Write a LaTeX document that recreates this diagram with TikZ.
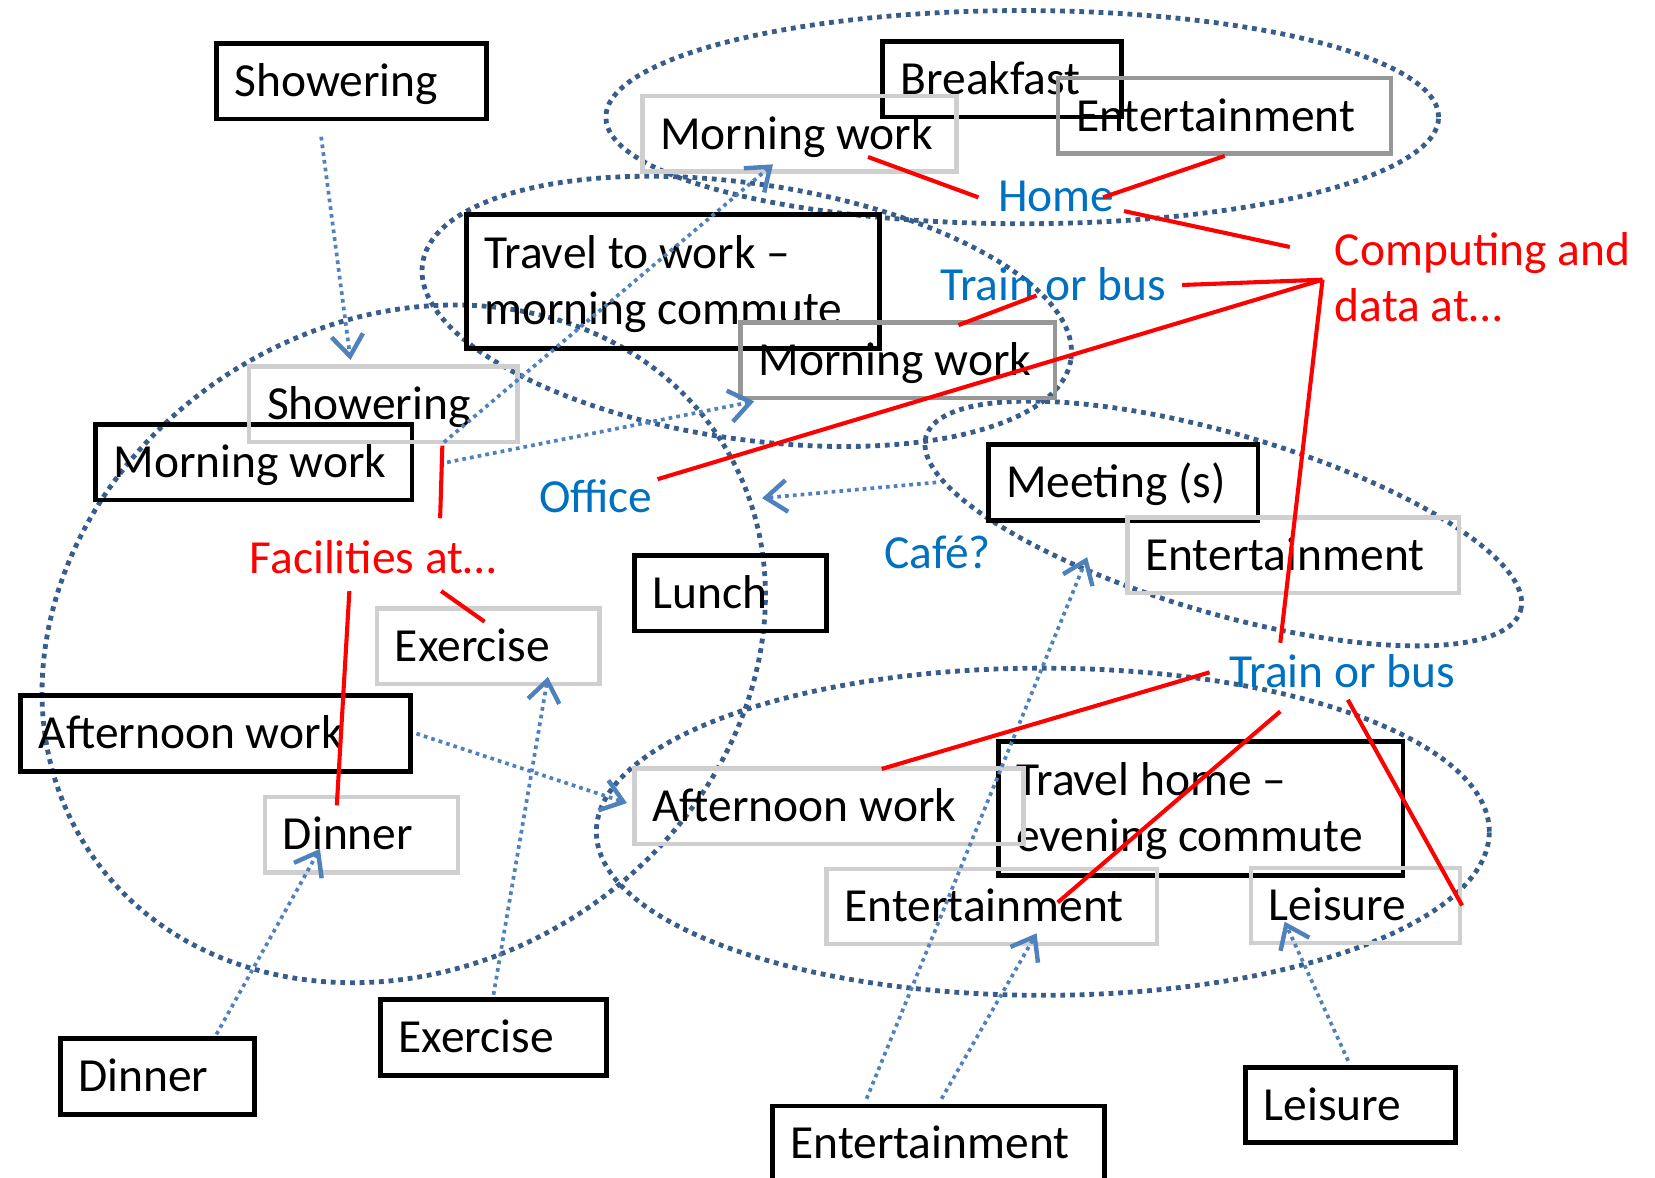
\documentclass[tikz,border=0pt]{standalone}
\usepackage{fontspec}
\setmainfont{Carlito}
\usepackage{tikz}
\usetikzlibrary{arrows.meta,shapes.geometric}
\definecolor{zoneblue}{HTML}{385D8A}
\definecolor{flowblue}{HTML}{4F81BD}
\definecolor{lblblue}{HTML}{0070C0}
\definecolor{lightbox}{HTML}{CFCFCF}
\definecolor{darkbox}{HTML}{979797}
\newcommand\boxpad{\hspace*{1.7mm}}

\begin{document}
\begin{tikzpicture}[x=0.1mm,y=-0.1mm,
  every node/.style={font=\fontsize{12.8pt}{15.1pt}\selectfont},
  box/.style={draw=black,line width=1.3pt,anchor=north west,inner xsep=0pt,inner ysep=0pt,
    align=flush left,text width=#1,text height=11.5pt,text depth=3.3pt,minimum height=7.15mm,
    execute at begin node=\boxpad},
  gbox/.style={box=#1,draw=lightbox,line width=1.2pt},
  dbox/.style={box=#1,draw=darkbox,line width=1.2pt},
  twoline/.style={minimum height=12.7mm,text depth=18.4pt},
  zone/.style={ellipse,draw=zoneblue,line width=1.3pt,dash pattern=on 1.3pt off 1.3pt,inner sep=0pt},
  flow/.style={draw=flowblue,line width=1pt,dash pattern=on 1pt off 1.1pt,
    -{Straight Barb[length=2mm,width=3mm,line width=1.2pt]}},
  link/.style={draw=red,line width=1.1pt},
  lbl/.style={anchor=base west,inner sep=0pt}]
  \useasboundingbox (0,0) rectangle (1568,1116);

  % places
  \node[zone,minimum width=7.89cm,minimum height=2.02cm] (homeZone) at (968.5,111) {};
  \node[zone,minimum width=6.21cm,minimum height=2.42cm,rotate=-8.4] (commuteZone) at (707.5,295) {};
  \node[zone,minimum width=7.14cm,minimum height=6.1cm,rotate=32.7] (officeZone) at (382.5,610) {};
  \node[zone,minimum width=5.87cm,minimum height=1.7cm,rotate=-16.3] (cafeZone) at (1159,496) {};
  \node[zone,minimum width=8.46cm,minimum height=3.1cm] (eveningZone) at (988,788) {};

  % activities
  \node[box=25.6mm] (shwTop) at (203,39) {Showering};
  \node[box=22.6mm] (brk) at (834,37) {Breakfast};
  \node[box=39.15mm,twoline] (trvW) at (439.5,201) {Travel to work –\\\boxpad morning commute};
  \node[box=29.95mm] (mwL) at (88.5,400) {Morning work};
  \node[box=25.55mm] (meet) at (934,419) {Meeting (s)};
  \node[box=18.2mm] (lunch) at (599,524) {Lunch};
  \node[box=36.95mm] (awL) at (17.5,657) {Afternoon work};
  \node[box=38.35mm,twoline] (trvH) at (943.5,700) {Travel home –\\\boxpad evening commute};
  \node[box=18.35mm] (dinB) at (55,982) {Dinner};
  \node[box=21.35mm] (exB) at (358.5,945) {Exercise};
  \node[box=31.45mm] (entB) at (729.5,1045.5) {Entertainment};
  \node[box=19.9mm] (leiB) at (1178,1009) {Leisure};

  \node[gbox=29.75mm] (mwTop) at (606.5,89) {Morning work};
  \node[dbox=31.55mm] (entTop) at (1000.5,72) {Entertainment};
  \node[dbox=29.8mm] (mwMid) at (699.5,303.5) {Morning work};
  \node[gbox=25.4mm] (shwMid) at (234,345) {Showering};
  \node[gbox=31.4mm] (entR) at (1066,488) {Entertainment};
  \node[gbox=21.1mm] (exMid) at (355,574.5) {Exercise};
  \node[gbox=18.3mm] (dinMid) at (249,753) {Dinner};
  \node[gbox=36.85mm] (awMid) at (599,726) {Afternoon work};
  \node[gbox=31.3mm] (entLow) at (781,821) {Entertainment};
  \node[gbox=19.8mm] (leiMid) at (1183,820) {Leisure};

  % labels
  \node[lbl,text=lblblue] (home) at (945,200) {Home};
  \node[lbl,text=lblblue] (trainA) at (890,285) {Train or bus};
  \node[lbl,text=red,align=left] (comp) at (1264,305) {Computing and\\data at…};
  \node[lbl,text=lblblue] (office) at (510,486) {Office};
  \node[lbl,text=red] (fac) at (236,543) {Facilities at…};
  \node[lbl,text=lblblue] (cafe) at (837,539) {Café?};
  \node[lbl,text=lblblue] (trainB) at (1164,651) {Train or bus};
  \coordinate (hub) at ([xshift=-1.1mm,yshift=4mm]comp.base west);

  % moving activities about
  \draw[flow] ([xshift=-2.9mm,yshift=-1.45mm]shwTop.south) -- ([xshift=-3.1mm,yshift=0.4mm]shwMid.north);
  \draw[flow] ([xshift=5.6mm,yshift=0.2mm]dinB.north) -- ([xshift=-3.95mm,yshift=2.45mm]dinMid.south);
  \draw[flow] ([yshift=0.25mm]exB.north) -- ([xshift=5.65mm,yshift=0.9mm]exMid.south);
  \draw[flow] ([xshift=0.3mm,yshift=0.45mm]entB.north) -- ([xshift=4.25mm,yshift=1.25mm]entLow.south);
  \draw[flow] ([xshift=-6.8mm,yshift=0.45mm]entB.north) -- ([xshift=-3.6mm,yshift=-0.2mm]entR.west);
  \draw[flow] ([xshift=-0.25mm,yshift=0.4mm]leiB.north) -- ([xshift=-6.7mm,yshift=2.25mm]leiMid.south);
  \draw[flow] ([xshift=0.3mm]awL.east) -- ([xshift=-0.5mm,yshift=0.3mm]awMid.west);
  \draw[flow] ([xshift=3.1mm]mwL.east) -- ([xshift=1.5mm,yshift=-0.1mm]mwMid.south west);
  \draw[flow] ([xshift=2.8mm,yshift=1.9mm]mwL.east) -- ([xshift=-2.5mm,yshift=0.9mm]mwTop.south);
  \draw[flow] ([xshift=-4.7mm]meet.west) -- ([xshift=21.2mm,yshift=1.4mm]office.base west);

  % where the computing happens
  \draw[link] ([xshift=6.5mm,yshift=1.6mm]mwTop.south) -- ([xshift=-1.8mm,yshift=1.3mm]home.base west);
  \draw[link] (entTop.south) -- ([xshift=10mm,yshift=1.3mm]home.base west);
  \draw[link] ([xshift=12mm]home.base west) -- ([xshift=-4.2mm,yshift=7.1mm]comp.base west);
  \draw[link] ([xshift=23mm,yshift=1.5mm]trainA.base west) -- (hub);
  \draw[link] ([xshift=9.2mm,yshift=0.5mm]trainA.base west) -- ([xshift=5.75mm,yshift=-0.45mm]mwMid.north);
  \draw[link] ([xshift=11.3mm,yshift=3.2mm]office.base west) -- (hub);
  \draw[link] (hub) -- ([xshift=4.9mm,yshift=4.2mm]trainB.base west);
  \draw[link] ([xshift=-1.8mm,yshift=1.4mm]trainB.base west) -- ([xshift=5mm,yshift=-0.25mm]awMid.north);
  \draw[link] ([xshift=4.9mm,yshift=-2.3mm]trainB.base west) -- ([xshift=6.25mm,yshift=-3.4mm]entLow.north);
  \draw[link] ([xshift=11.3mm,yshift=-1.2mm]trainB.base west) -- (leiMid.east);
  \draw[link] ([xshift=18.1mm,yshift=5.2mm]fac.base west) -- ([xshift=5.6mm,yshift=-0.15mm]shwMid.south);
  \draw[link] ([xshift=9.5mm,yshift=-1.7mm]fac.base west) -- ([xshift=-2.35mm,yshift=-1mm]dinMid.north);
  \draw[link] ([xshift=18.2mm,yshift=-1.7mm]fac.base west) -- ([xshift=-0.35mm,yshift=-1.45mm]exMid.north);
\end{tikzpicture}
\end{document}
